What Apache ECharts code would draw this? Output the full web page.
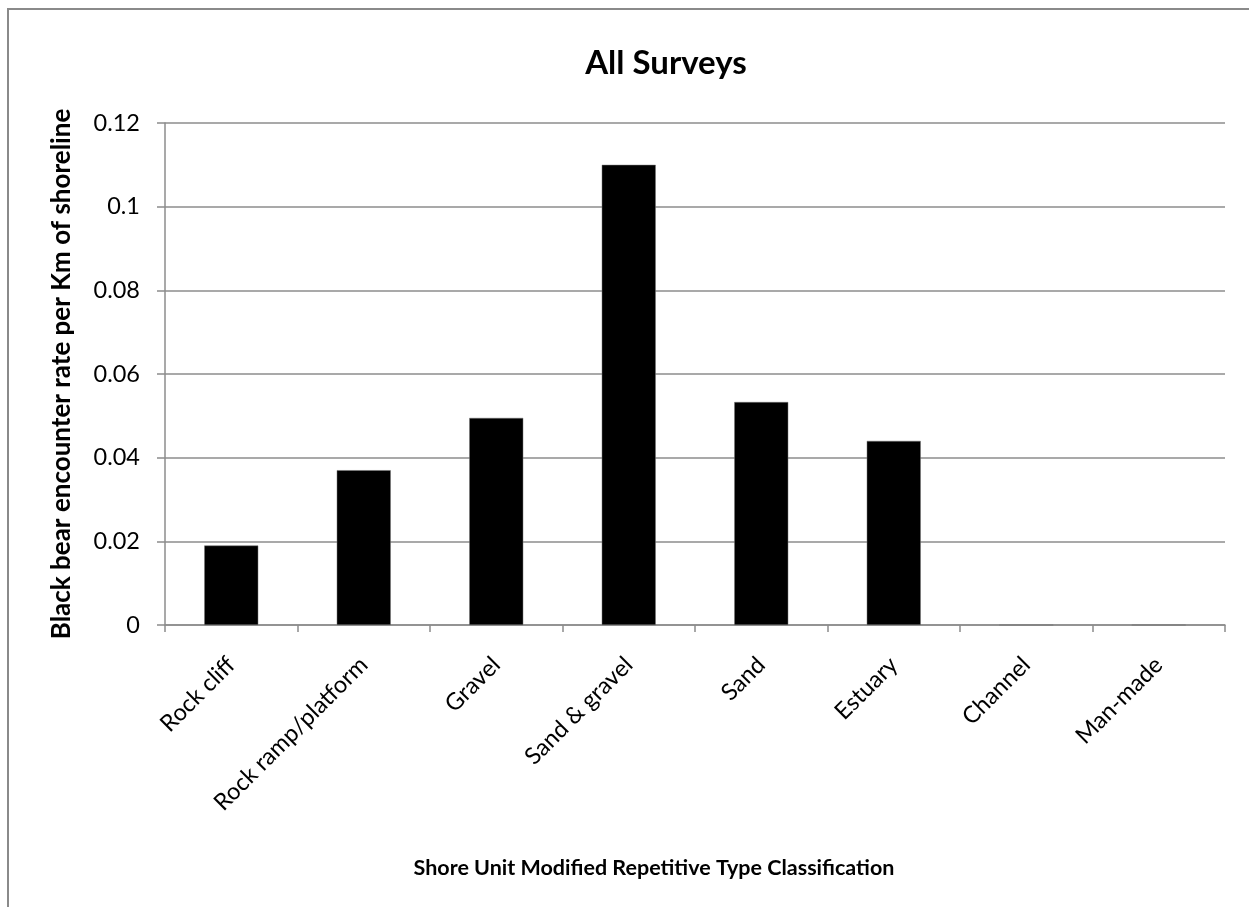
<!DOCTYPE html>
<html>
<head>
<meta charset="utf-8">
<script src="https://cdn.jsdelivr.net/npm/echarts@6/dist/echarts.min.js"></script>
<style>
  html, body { margin: 0; padding: 0; background: #fff; }
  #chart { width: 1249px; height: 907px; }
</style>
</head>
<body>
<div id="chart"></div>
<script>
// Shore type categories and black bear encounter rates
const categories = ['Rock cliff', 'Rock ramp/platform', 'Gravel', 'Sand & gravel', 'Sand', 'Estuary', 'Channel', 'Man-made'];
const encounterRates = [0.019, 0.037, 0.0495, 0.110, 0.0533, 0.044, 0, 0];
const yTicks = { min: 0, max: 0.12, interval: 0.02 };

const FONT = 'Lato, "Open Sans", sans-serif';
const chart = echarts.init(document.getElementById('chart'), null, { renderer: 'canvas' });

chart.setOption({
  backgroundColor: '#fff',
  animation: false,
  title: {
    text: 'All Surveys',
    left: 661,
    textAlign: 'center',
    top: 42,
    textStyle: { fontFamily: FONT, fontSize: 33, fontWeight: 'bold', color: '#000' }
  },
  graphic: [{
    type: 'rect',
    shape: { x: 8, y: 9, width: 1400, height: 1000 },
    style: { fill: 'none', stroke: '#8a8a8a', lineWidth: 2 },
    silent: true
  }],
  grid: { left: 165, right: 24, top: 123, bottom: 282 },
  xAxis: {
    type: 'category',
    data: categories,
    name: 'Shore Unit Modified Repetitive Type Classification',
    nameLocation: 'middle',
    nameGap: 232,
    nameTextStyle: { fontFamily: FONT, fontSize: 21.5, fontWeight: 'bold', color: '#000', padding: [0, 82, 0, 0] },
    axisLine: { lineStyle: { color: '#8c8c8c', width: 1.5 } },
    axisTick: { show: true, length: 7, alignWithLabel: false, lineStyle: { color: '#8c8c8c', width: 1.5 } },
    axisLabel: { rotate: 45, fontFamily: FONT, fontSize: 23.5, color: '#000', margin: 36, interval: 0 }
  },
  yAxis: {
    type: 'value',
    min: yTicks.min,
    max: yTicks.max,
    interval: yTicks.interval,
    name: 'Black bear encounter rate per Km of shoreline',
    nameLocation: 'middle',
    nameGap: 90,
    nameTextStyle: { fontFamily: FONT, fontSize: 26, fontWeight: 'bold', color: '#000' },
    axisLine: { show: true, lineStyle: { color: '#8c8c8c', width: 1.5 } },
    axisTick: { show: true, length: 8, lineStyle: { color: '#8c8c8c', width: 1.5 } },
    axisLabel: { fontFamily: FONT, fontSize: 23.5, color: '#000', margin: 25 },
    splitLine: { lineStyle: { color: '#8c8c8c', width: 1.5 } }
  },
  series: [{
    type: 'bar',
    data: encounterRates,
    barWidth: 54,
    itemStyle: { color: '#000', borderColor: '#777', borderWidth: 0.5 }
  }]
});
</script>
</body>
</html>
